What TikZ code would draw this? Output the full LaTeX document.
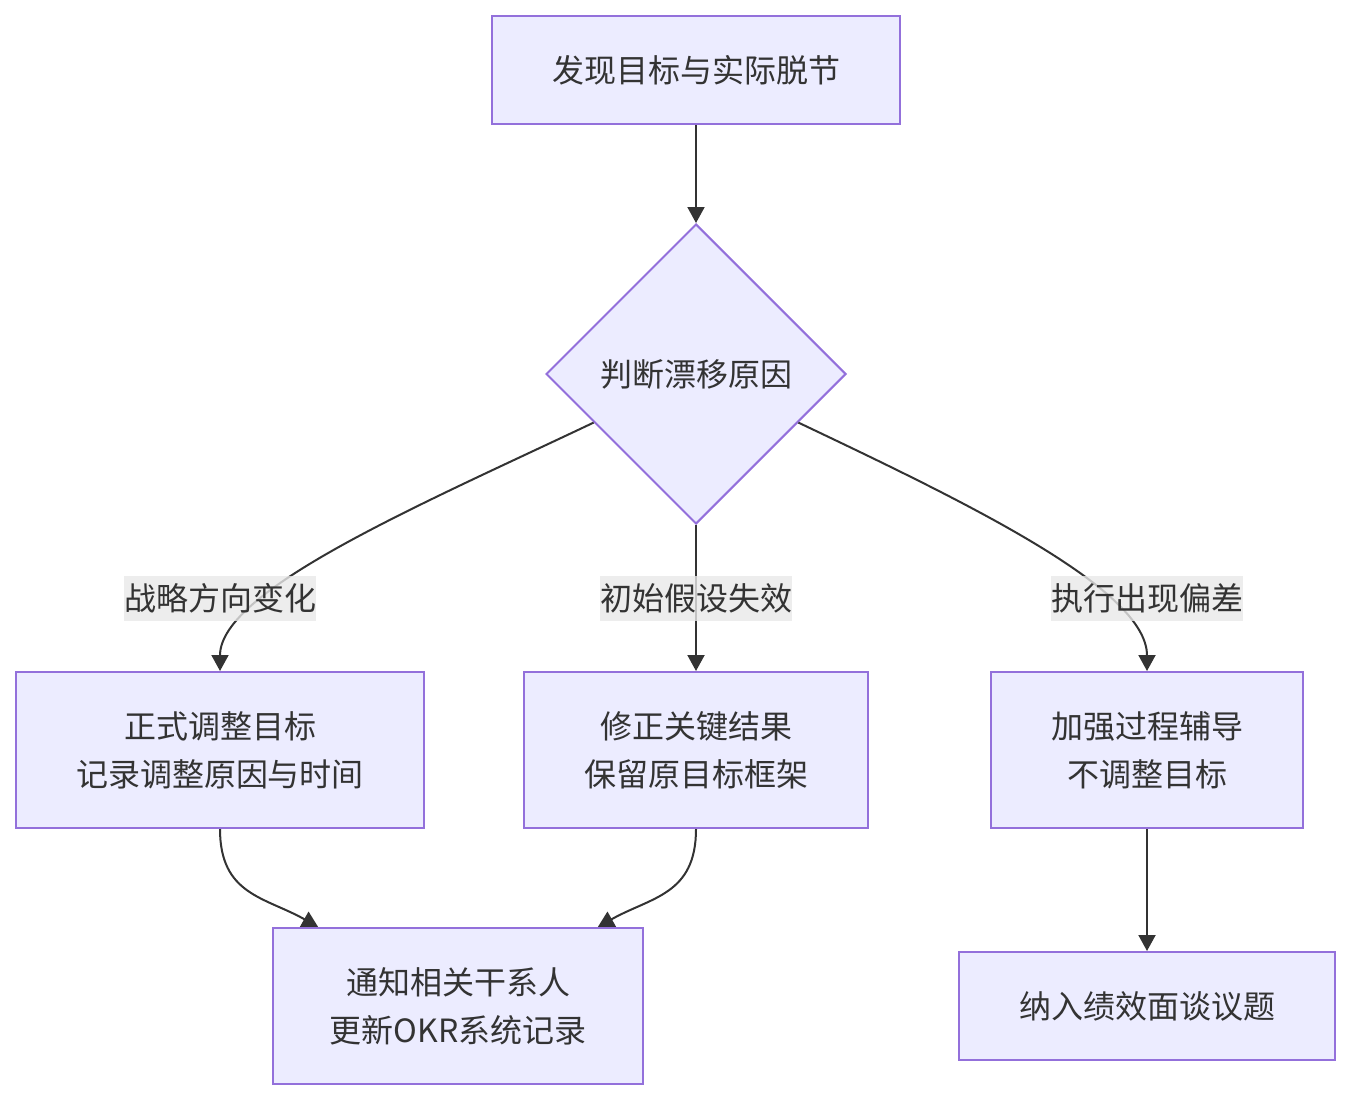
\documentclass[tikz,border=0pt]{standalone}
\usepackage{fontspec}
\setmainfont{Noto Sans CJK SC}
\usetikzlibrary{shapes.geometric,arrows.meta}
\definecolor{boxfill}{HTML}{ECECFF}
\definecolor{boxline}{HTML}{9370DB}
\definecolor{ink}{HTML}{333333}
\definecolor{lblbg}{HTML}{E8E8E8}
\tikzset{
  box/.style={draw=boxline, fill=boxfill, line width=2pt, text=ink, align=center,
    inner sep=0pt, font=\fontsize{32}{48}\selectfont},
  decide/.style={box, diamond, aspect=1, minimum width=300pt, minimum height=300pt},
  flow/.style={ink, line width=2pt, -{Triangle[length=16pt,width=17pt]}},
  lbl/.style={fill=lblbg, fill opacity=0.8, text opacity=1, text=ink, inner sep=0pt,
    minimum height=45pt, font=\fontsize{32}{48}\selectfont},
}
\begin{document}
\begin{tikzpicture}[x=1pt, y=-1pt]
    \useasboundingbox (0,0) rectangle (1350,1100);
    \node[box, minimum width=408pt, minimum height=108pt] (found) at (696,70) {发现目标与实际脱节};
    \node[decide] (judge) at (696,374) {判断漂移原因};
    \node[box, minimum width=408pt, minimum height=156pt] (adjust) at (220,750) {正式调整目标\\记录调整原因与时间};
    \node[box, minimum width=344pt, minimum height=156pt] (revise) at (696,750) {修正关键结果\\保留原目标框架};
    \node[box, minimum width=312pt, minimum height=156pt] (coach) at (1147,750) {加强过程辅导\\不调整目标};
    \node[box, minimum width=370pt, minimum height=156pt] (notify) at (458,1006) {通知相关干系人\\更新OKR系统记录};
    \node[box, minimum width=376pt, minimum height=108pt] (review) at (1147,1006) {纳入绩效面谈议题};
    % edges
    \draw[flow] (found) -- (judge);
    \draw[flow] (judge) .. controls (420,505) and (220,590) .. (adjust);
    \draw[flow] (judge) -- (revise);
    \draw[flow] (judge) .. controls (972,505) and (1147,590) .. (coach);
    \draw[flow] (adjust) .. controls (220,895) and (265,897) .. (notify);
    \draw[flow] (revise) .. controls (696,895) and (651,897) .. (notify);
    \draw[flow] (coach) -- (review);
    % edge labels
    \node[lbl] (l1) at (220,598) {战略方向变化};
    \node[lbl] (l2) at (696,598) {初始假设失效};
    \node[lbl] (l3) at (1147,598) {执行出现偏差};
\end{tikzpicture}
\end{document}
